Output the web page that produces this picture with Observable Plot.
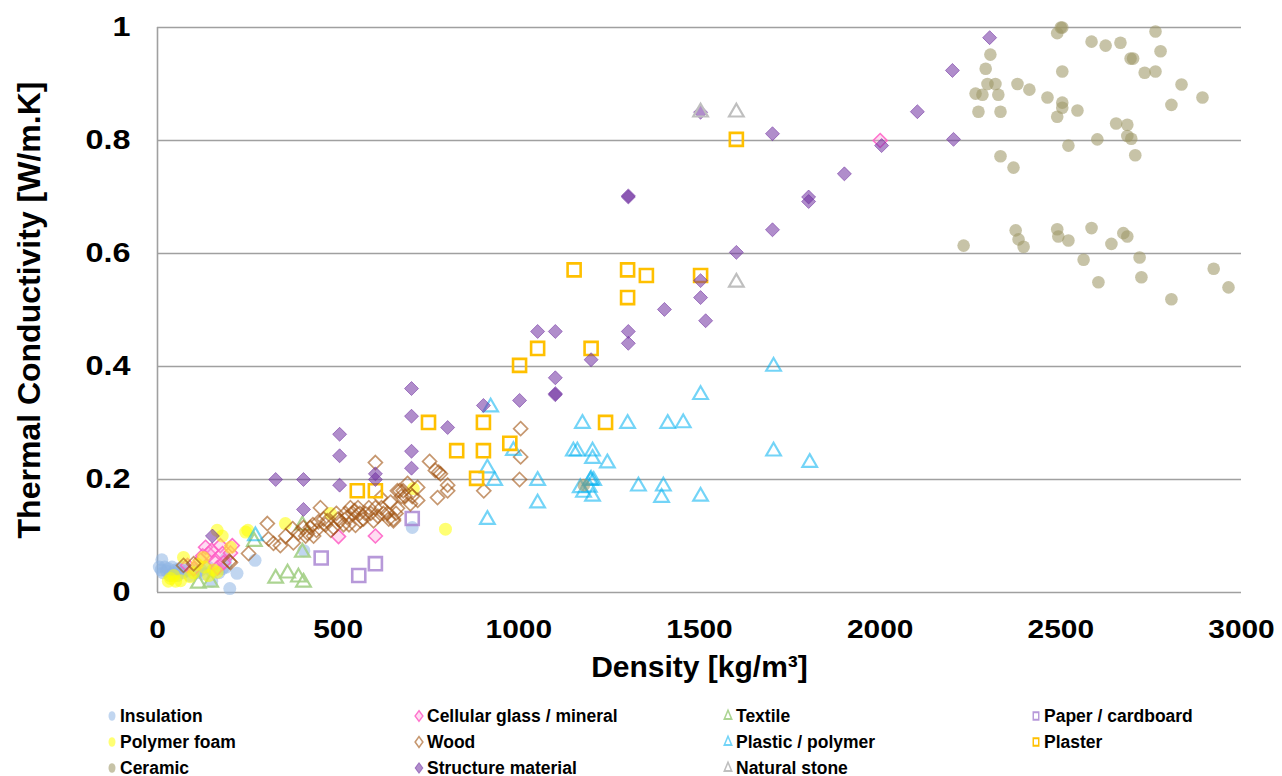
<!DOCTYPE html>
<html><head><meta charset="utf-8">
<script src="https://cdn.jsdelivr.net/npm/d3@7"></script>
<script src="https://cdn.jsdelivr.net/npm/@observablehq/plot@0.6"></script>
<style>
body{margin:0;background:#fff;font-family:"Liberation Sans",Arial,sans-serif;}
#chart{height:700px;}
#legend{display:grid;grid-template-columns:307px 309px 308px 220px;padding-left:106px;margin-top:3px;}
.item{height:26px;display:flex;align-items:center;font-weight:bold;font-size:17.5px;color:#000;}
.item svg{margin-right:2px}
</style></head><body><div id="chart"></div><div id="legend"></div>
<script>
// ---- data: [density kg/m3, thermal conductivity W/m.K] ----
const insulation = [[5,0.045],[10,0.04],[12,0.058],[15,0.035],[20,0.045],[25,0.038],[30,0.042],[35,0.03],[40,0.045],[45,0.035],[50,0.04],[55,0.03],[60,0.042],[70,0.035],[75,0.045],[80,0.038],[90,0.03],[100,0.04],[110,0.035],[120,0.04],[130,0.033],[140,0.045],[150,0.038],[150,0.02],[160,0.04],[170,0.035],[180,0.042],[190,0.045],[190,0.06],[200,0.007],[220,0.034],[270,0.057],[405,0.074],[705,0.115]];
const cellularGlass = [[83,0.048],[100,0.042],[119,0.057],[125,0.065],[133,0.08],[141,0.069],[150,0.075],[160,0.053],[166,0.044],[174,0.083],[180,0.069],[183,0.053],[202,0.07],[207,0.083],[501,0.099],[603,0.1],[2000,0.8]];
const textile = [[113,0.016],[147,0.018],[268,0.09],[327,0.025],[360,0.034],[390,0.027],[404,0.018],[401,0.071],[401,0.119]];
const paper = [[453,0.061],[557,0.03],[603,0.051],[705,0.131]];
const polymerFoam = [[30,0.02],[36,0.025],[45,0.03],[50,0.02],[64,0.021],[72,0.062],[90,0.028],[100,0.035],[110,0.05],[127,0.062],[130,0.045],[141,0.03],[155,0.04],[165,0.036],[165,0.11],[179,0.1],[202,0.08],[244,0.107],[250,0.11],[354,0.122],[479,0.14],[708,0.184],[797,0.112]];
const wood = [[72,0.048],[100,0.051],[199,0.055],[202,0.053],[252,0.069],[304,0.122],[307,0.095],[321,0.087],[340,0.083],[355,0.1],[374,0.113],[376,0.088],[390,0.105],[404,0.115],[410,0.1],[415,0.105],[423,0.115],[430,0.12],[432,0.1],[440,0.11],[445,0.125],[451,0.15],[460,0.13],[465,0.12],[470,0.127],[480,0.11],[487,0.115],[495,0.14],[500,0.13],[506,0.127],[515,0.12],[520,0.14],[525,0.133],[530,0.12],[534,0.15],[540,0.14],[545,0.145],[548,0.119],[555,0.15],[560,0.14],[562,0.127],[570,0.13],[575,0.14],[585,0.15],[590,0.14],[598,0.127],[603,0.23],[603,0.15],[610,0.135],[617,0.168],[620,0.15],[625,0.14],[636,0.14],[640,0.13],[645,0.16],[653,0.127],[653,0.13],[660,0.14],[664,0.18],[664,0.149],[670,0.18],[675,0.17],[680,0.18],[685,0.17],[692,0.193],[700,0.157],[705,0.17],[720,0.163],[720,0.186],[753,0.232],[769,0.216],[775,0.168],[778,0.213],[783,0.21],[803,0.19],[803,0.18],[903,0.18],[1002,0.2],[1005,0.24],[1005,0.29]];
const plastic = [[271,0.1],[913,0.129],[913,0.22],[922,0.328],[933,0.198],[985,0.251],[1052,0.198],[1052,0.158],[1151,0.25],[1162,0.25],[1170,0.185],[1176,0.299],[1179,0.177],[1195,0.186],[1198,0.198],[1200,0.2],[1204,0.25],[1204,0.237],[1207,0.198],[1204,0.17],[1245,0.229],[1301,0.299],[1331,0.188],[1395,0.168],[1400,0.188],[1412,0.299],[1455,0.3],[1503,0.35],[1503,0.17],[1705,0.4],[1705,0.25],[1805,0.23]];
const plaster = [[553,0.18],[603,0.18],[750,0.301],[828,0.251],[883,0.202],[902,0.301],[902,0.251],[975,0.264],[1002,0.402],[1052,0.432],[1153,0.571],[1200,0.432],[1240,0.301],[1301,0.571],[1301,0.522],[1353,0.561],[1503,0.561],[1602,0.802]];
const ceramic = [[1180,0.19],[2231,0.614],[2264,0.883],[2272,0.851],[2283,0.881],[2292,0.927],[2297,0.9],[2305,0.952],[2319,0.9],[2327,0.881],[2333,0.851],[2333,0.772],[2369,0.752],[2375,0.641],[2383,0.625],[2397,0.612],[2380,0.9],[2413,0.89],[2463,0.876],[2490,0.99],[2500,1.0],[2504,1.0],[2585,0.975],[2624,0.968],[2665,0.973],[2762,0.993],[2776,0.958],[2693,0.945],[2700,0.945],[2732,0.92],[2762,0.922],[2504,0.922],[2834,0.899],[2892,0.876],[2806,0.863],[2504,0.867],[2504,0.858],[2490,0.842],[2546,0.853],[2653,0.83],[2684,0.828],[2684,0.808],[2695,0.803],[2601,0.802],[2521,0.791],[2706,0.774],[2490,0.643],[2493,0.63],[2521,0.623],[2585,0.645],[2640,0.617],[2673,0.636],[2684,0.63],[2563,0.589],[2718,0.593],[2604,0.549],[2723,0.558],[2923,0.573],[2964,0.54],[2806,0.519]];
const structure = [[152,0.1],[327,0.2],[404,0.2],[404,0.147],[504,0.28],[504,0.242],[504,0.19],[603,0.21],[603,0.2],[703,0.361],[703,0.312],[703,0.25],[703,0.22],[803,0.292],[902,0.331],[1002,0.34],[1052,0.462],[1101,0.462],[1101,0.38],[1101,0.352],[1101,0.35],[1200,0.412],[1303,0.462],[1303,0.441],[1303,0.7],[1303,0.702],[1403,0.501],[1503,0.552],[1503,0.522],[1517,0.481],[1503,0.85],[1602,0.602],[1702,0.642],[1702,0.812],[1802,0.7],[1802,0.692],[1901,0.741],[2004,0.791],[2103,0.851],[2203,0.802],[2200,0.924],[2303,0.982]];
const naturalStone = [[1503,0.85],[1602,0.85],[1602,0.549]];

const xTicks = [0,500,1000,1500,2000,2500,3000];
const xTickLabels = ["0","500","1000","1500","2000","2500","3000"];
const yTicks = [0,0.2,0.4,0.6,0.8,1];
const yTickLabels = ["0","0.2","0.4","0.6","0.8","1"];
const xLabel = "Density [kg/m³]";
const yLabel = "Thermal Conductivity [W/m.K]";

// ---- series (legend order = draw order) ----
const series = [
  {name:"Insulation", data:insulation},
  {name:"Cellular glass / mineral", data:cellularGlass},
  {name:"Textile", data:textile},
  {name:"Paper / cardboard", data:paper},
  {name:"Polymer foam", data:polymerFoam},
  {name:"Wood", data:wood},
  {name:"Plastic / polymer", data:plastic},
  {name:"Plaster", data:plaster},
  {name:"Ceramic", data:ceramic},
  {name:"Structure material", data:structure},
  {name:"Natural stone", data:naturalStone}
];
const styles = {
  "Insulation": {symbol:"circle", r:6.5, fill:"#8EB4E3", fillOpacity:0.55, stroke:"none"},
  "Cellular glass / mineral": {symbol:"diamond2", r:6.3, fill:"#FF9BD8", fillOpacity:0.35, stroke:"#FF5CC4", strokeOpacity:0.85, strokeWidth:1.6},
  "Textile": {symbol:"triangle2", r:7, fill:"none", stroke:"#A3CF86", strokeOpacity:0.9, strokeWidth:2.2},
  "Paper / cardboard": {symbol:"square2", r:8.3, fill:"none", stroke:"#A57FD0", strokeOpacity:0.8, strokeWidth:2.6},
  "Polymer foam": {symbol:"circle", r:6.5, fill:"#FFFF00", fillOpacity:0.55, stroke:"none"},
  "Wood": {symbol:"diamond2", r:6.3, fill:"none", stroke:"#A0520F", strokeOpacity:0.6, strokeWidth:1.7},
  "Plastic / polymer": {symbol:"triangle2", r:7, fill:"none", stroke:"#00B0F0", strokeOpacity:0.55, strokeWidth:2.2},
  "Plaster": {symbol:"square2", r:8.3, fill:"none", stroke:"#FFC000", strokeOpacity:1, strokeWidth:2.6},
  "Ceramic": {symbol:"circle", r:6.3, fill:"#9E9868", fillOpacity:0.58, stroke:"none"},
  "Structure material": {symbol:"diamond2", r:6.3, fill:"#7030A0", fillOpacity:0.55, stroke:"#7030A0", strokeOpacity:0.55, strokeWidth:1},
  "Natural stone": {symbol:"triangle2", r:7, fill:"none", stroke:"#BFBFBF", strokeOpacity:1, strokeWidth:2.2}
};

const grid = "#a0a0a0";
const marks = [
  Plot.gridY(yTicks.filter(d => d > 0), {stroke:grid, strokeOpacity:1, strokeWidth:1.6}),
  Plot.ruleY([0], {stroke:grid, strokeWidth:1.6}),
  Plot.ruleX([0], {stroke:grid, strokeWidth:1.6}),
  ...series.map(s => Plot.dot(s.data, {x:d => d[0], y:d => d[1], ...styles[s.name]})),
  Plot.axisX({ticks:xTicks, tickSize:0, tickPadding:27, tickFormat:d => xTickLabels[xTicks.indexOf(d)], label:xLabel, labelAnchor:"center", labelArrow:"none", labelOffset:84}),
  Plot.axisY({ticks:yTicks, tickSize:0, tickPadding:27, tickFormat:d => yTickLabels[yTicks.indexOf(d)], label:yLabel, labelAnchor:"center", labelArrow:"none", labelOffset:140})
];

const chart = Plot.plot({
  width:1282, height:700,
  marginLeft:157, marginRight:41, marginTop:27, marginBottom:108,
  x:{domain:[0,3000]},
  y:{domain:[0,1]},
  style:{fontFamily:'"Liberation Sans", Arial, sans-serif', fontWeight:"bold", fontSize:"26px", color:"#000", background:"#fff", overflow:"visible"},
  marks
});
document.getElementById("chart").appendChild(chart);

// text styling
const svg = d3.select(chart);
svg.selectAll('[aria-label="y-axis tick label"] text').each(function(){
  const t = this.getAttribute("transform") || "";
  this.setAttribute("transform", t + " scale(1.2,1)");
}).style("font-size","27px");
svg.selectAll('[aria-label="x-axis tick label"] text').each(function(){
  const t = this.getAttribute("transform") || "";
  this.setAttribute("transform", t + " scale(1.15,1)");
}).style("font-size","26px");
svg.selectAll('[aria-label="y-axis label"] text').style("font-size","32px");
svg.selectAll('[aria-label="x-axis label"] text').style("font-size","30px");

// legend
const legend = d3.select("#legend");
series.forEach(s => {
  const st = styles[s.name];
  const it = legend.append("div").attr("class","item");
  const sv = it.append("svg").attr("width",12).attr("height",16);
  const sym = {circle:d3.symbolCircle, diamond2:d3.symbolDiamond2, triangle2:d3.symbolTriangle2, square2:d3.symbolSquare2}[st.symbol];
  sv.append("path")
    .attr("transform","translate(6,8) scale(0.8,1.1)")
    .attr("d", d3.symbol(sym, 60)())
    .attr("fill", st.fill)
    .attr("fill-opacity", st.fillOpacity ?? 1)
    .attr("stroke", st.stroke)
    .attr("stroke-opacity", st.strokeOpacity ?? 1)
    .attr("stroke-width", Math.min(st.strokeWidth ?? 0, 1.8));
  it.append("span").text(s.name);
});
</script></body></html>
